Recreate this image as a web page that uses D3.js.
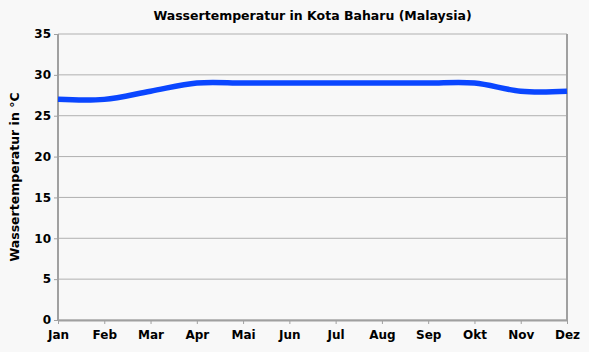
<!DOCTYPE html>
<html>
<head>
<meta charset="utf-8">
<script src="https://cdn.jsdelivr.net/npm/d3@7"></script>
<style>
  body { margin: 0; background: #f8f8f8; }
  text { font-family: "DejaVu Sans", Verdana, sans-serif; font-weight: bold; fill: #000; }
</style>
</head>
<body>
<script>
const w = 589, h = 352;
const margin = {top: 34, right: 22, bottom: 32, left: 58};

const months = ['Jan', 'Feb', 'Mar', 'Apr', 'Mai', 'Jun', 'Jul', 'Aug', 'Sep', 'Okt', 'Nov', 'Dez'];
const temps = [27, 27, 28, 29, 29, 29, 29, 29, 29, 29, 28, 28];
const yTicks = [0, 5, 10, 15, 20, 25, 30, 35];

const svg = d3.select('body').append('svg')
    .attr('width', w)
    .attr('height', h);

svg.append('rect').attr('width', w).attr('height', h).attr('fill', '#f8f8f8');

const x = d3.scalePoint()
    .domain(months)
    .range([margin.left, w - margin.right]);

const y = d3.scaleLinear()
    .domain([0, 35])
    .range([h - margin.bottom, margin.top]);

// grid
svg.append('g')
    .selectAll('line')
    .data(yTicks)
    .join('line')
    .attr('x1', margin.left)
    .attr('x2', w - margin.right)
    .attr('y1', d => y(d))
    .attr('y2', d => y(d))
    .attr('stroke', '#b0b0b0')
    .attr('stroke-width', 1);

// frame (right/top)
svg.append('line')
    .attr('x1', w - margin.right).attr('x2', w - margin.right)
    .attr('y1', margin.top).attr('y2', h - margin.bottom)
    .attr('stroke', '#a0a0a0').attr('stroke-width', 2);

const yAxis = svg.append('g')
    .attr('transform', `translate(${margin.left},0)`)
    .call(d3.axisLeft(y).tickValues(yTicks).tickSize(4).tickPadding(3));

const xAxis = svg.append('g')
    .attr('transform', `translate(0,${h - margin.bottom})`)
    .call(d3.axisBottom(x).tickSize(4).tickPadding(6).tickSizeOuter(0));

[xAxis, yAxis].forEach(a => {
    a.select('.domain').attr('stroke', '#a0a0a0').attr('stroke-width', 2);
    a.selectAll('.tick line').attr('stroke', '#a0a0a0').attr('stroke-width', 1);
    a.selectAll('text').style('font-size', '12px').attr('fill', '#000');
});
yAxis.select('.domain').attr('d', `M0,${margin.top}V${h - margin.bottom}`);

const line = d3.line()
    .x((d, i) => x(months[i]))
    .y(d => y(d))
    .curve(d3.curveCardinal);

svg.append('path')
    .datum(temps)
    .attr('d', line)
    .attr('fill', 'none')
    .attr('stroke', '#0a46ff')
    .attr('stroke-width', 5.5)
    .attr('stroke-linecap', 'butt');

svg.append('text')
    .attr('x', (margin.left + w - margin.right) / 2)
    .attr('y', 20)
    .attr('text-anchor', 'middle')
    .style('font-size', '12.5px')
    .text('Wassertemperatur in Kota Baharu (Malaysia)');

svg.append('text')
    .attr('transform', `translate(19,${(margin.top + h - margin.bottom) / 2}) rotate(-90)`)
    .attr('text-anchor', 'middle')
    .style('font-size', '12.5px')
    .text('Wassertemperatur in °C');
</script>
</body>
</html>
